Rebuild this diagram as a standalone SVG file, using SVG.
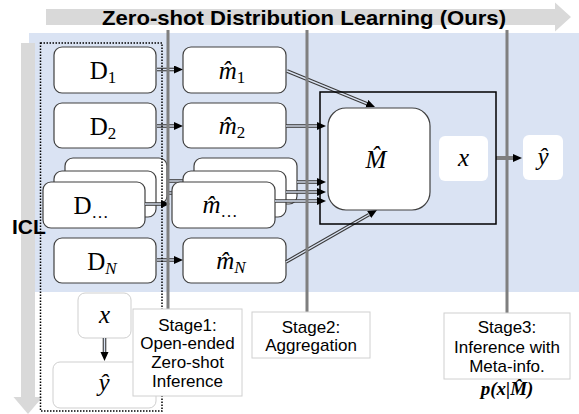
<svg xmlns="http://www.w3.org/2000/svg" width="579" height="414" viewBox="0 0 579 414">
<defs>
<style>
.box{fill:#fff;stroke:#404040;stroke-width:1.2}
.lbox{fill:#fff;stroke:#cfcfcf;stroke-width:1}
.math{font-family:"Liberation Serif","DejaVu Serif",serif;font-size:25px;fill:#000}
.it{font-style:italic}
.sub{font-size:17px}
.stg{font-family:"Liberation Sans",Arial,sans-serif;font-size:17px;fill:#000;text-anchor:middle}
.dl-o{stroke:#3a3a3a;stroke-width:3.6;fill:none}
.dl-i{stroke:#dae3f3;stroke-width:1.4;fill:none}
.vline{stroke:#7f7f7f;stroke-width:3}
</style>
<marker id="ah" markerWidth="10" markerHeight="10" refX="0" refY="4" orient="auto" markerUnits="userSpaceOnUse">
<path d="M0,0 L9,4 L0,8 z" fill="#000"/>
</marker>
</defs>
<rect width="579" height="414" fill="#fff"/>
<!-- background -->
<rect x="29" y="33" width="550" height="259" fill="#dae3f3"/>
<!-- top arrow -->
<path d="M46,9 H555 V2.5 L571,17 L555,31.5 V25 H46 z" fill="#d9d9d9"/>
<text x="304" y="25" font-family="Liberation Sans,Arial,sans-serif" font-weight="bold" font-size="21" text-anchor="middle" textLength="404" lengthAdjust="spacingAndGlyphs">Zero-shot Distribution Learning (Ours)</text>
<!-- left arrow -->
<path d="M21,43 H35 V397 H42.5 L28,414 L13.5,397 H21 z" fill="#d9d9d9"/>

<!-- ICL region -->
<g id="icl-x">
<rect class="lbox" x="78" y="293" width="53" height="45" rx="7"/>
<text class="math it" x="104.5" y="323" text-anchor="middle">x</text>
</g>
<g id="icl-y">
<rect class="lbox" x="53" y="362" width="103" height="46" rx="7"/>
<text class="math it" x="104" y="391" text-anchor="middle">ŷ</text>
</g>

<!-- connectors -->
<g id="connectors">
<line class="dl-o" x1="157" y1="69.5" x2="174" y2="69.5" marker-end="url(#ah)"/>
<line class="dl-i" x1="157" y1="69.5" x2="174" y2="69.5"/>
<line class="dl-o" x1="157" y1="126" x2="174" y2="126" marker-end="url(#ah)"/>
<line class="dl-i" x1="157" y1="126" x2="174" y2="126"/>
<line class="dl-o" x1="157" y1="260" x2="174" y2="260" marker-end="url(#ah)"/>
<line class="dl-i" x1="157" y1="260" x2="174" y2="260"/>
<line class="dl-o" x1="167" y1="181" x2="183" y2="181"/>
<line class="dl-i" x1="167" y1="181" x2="183" y2="181"/>
<line class="dl-o" x1="156" y1="193" x2="175" y2="193"/>
<line class="dl-i" x1="156" y1="193" x2="175" y2="193"/>
<line class="dl-o" x1="104.5" y1="338" x2="104.5" y2="352" marker-end="url(#ah)"/>
<line class="dl-i" x1="104.5" y1="338" x2="104.5" y2="352"/>
</g>

<!-- D nodes -->
<g id="d1">
<rect class="box" x="54" y="47" width="102" height="46" rx="8"/>
<text class="math" x="103" y="79" text-anchor="middle">D<tspan class="sub" dy="4">1</tspan></text>
</g>
<g id="d2">
<rect class="box" x="54" y="103" width="102" height="45" rx="8"/>
<text class="math" x="103" y="134.5" text-anchor="middle">D<tspan class="sub" dy="4">2</tspan></text>
</g>
<g id="d-dots">
<rect class="box" x="65" y="158" width="102" height="46" rx="8"/>
<rect class="box" x="54" y="171" width="102" height="46" rx="8"/>
<rect class="box" x="43" y="182" width="102" height="46" rx="8"/>
<text class="math" x="91" y="213.5" text-anchor="middle">D<tspan class="sub" dy="4">…</tspan></text>
</g>
<g id="dn">
<rect class="box" x="54" y="238" width="102" height="45" rx="8"/>
<text class="math" x="102" y="269.5" text-anchor="middle">D<tspan class="sub it" dy="4">N</tspan></text>
</g>
<g id="d-front-arrow">
<line class="dl-o" x1="145" y1="204" x2="161" y2="204" marker-end="url(#ah)"/>
<line class="dl-i" x1="145" y1="204" x2="161" y2="204"/>
</g>

<!-- m nodes -->
<g id="m1">
<rect class="box" x="183" y="47" width="103" height="46" rx="8"/>
<text class="math it" x="232" y="78.5" text-anchor="middle">m̂<tspan class="sub" font-style="normal" dy="4">1</tspan></text>
</g>
<g id="m2">
<rect class="box" x="183" y="103" width="103" height="45" rx="8"/>
<text class="math it" x="232" y="134" text-anchor="middle">m̂<tspan class="sub" font-style="normal" dy="4">2</tspan></text>
</g>
<g id="m-dots">
<rect class="box" x="194" y="158" width="103" height="46" rx="8"/>
<rect class="box" x="183" y="171" width="103" height="46" rx="8"/>
<rect class="box" x="172" y="182" width="103" height="46" rx="8"/>
<text class="math it" x="220" y="213" text-anchor="middle">m̂<tspan class="sub" font-style="normal" dy="4">…</tspan></text>
</g>
<g id="mn">
<rect class="box" x="183" y="238" width="103" height="45" rx="8"/>
<text class="math it" x="231" y="269" text-anchor="middle">m̂<tspan class="sub" dy="4">N</tspan></text>
</g>

<!-- m -> M connectors -->
<g id="connectors-2">
<line class="dl-o" x1="287" y1="71" x2="366.7" y2="103.6" marker-end="url(#ah)"/>
<line class="dl-i" x1="287" y1="71" x2="366.7" y2="103.6"/>
<line class="dl-o" x1="286" y1="126" x2="317" y2="126" marker-end="url(#ah)"/>
<line class="dl-i" x1="286" y1="126" x2="317" y2="126"/>
<line class="dl-o" x1="297" y1="182" x2="317" y2="182" marker-end="url(#ah)"/>
<line class="dl-i" x1="297" y1="182" x2="317" y2="182"/>
<line class="dl-o" x1="286" y1="192" x2="317" y2="192" marker-end="url(#ah)"/>
<line class="dl-i" x1="286" y1="192" x2="317" y2="192"/>
<line class="dl-o" x1="275" y1="201" x2="317" y2="201" marker-end="url(#ah)"/>
<line class="dl-i" x1="275" y1="201" x2="317" y2="201"/>
<line class="dl-o" x1="286" y1="262" x2="369.2" y2="214.5" marker-end="url(#ah)"/>
<line class="dl-i" x1="286" y1="262" x2="369.2" y2="214.5"/>
<line stroke="#7f7f7f" stroke-width="4" x1="496" y1="158" x2="513" y2="158" marker-end="url(#ah)"/>
</g>

<!-- aggregation -->
<g id="agg">
<rect x="320" y="92" width="176" height="132" fill="none" stroke="#000" stroke-width="1.5"/>
</g>
<g id="M">
<rect class="box" x="328" y="108" width="102" height="102" rx="18"/>
<text class="math it" x="376" y="168" text-anchor="middle" font-size="26">M̂</text>
</g>
<g id="x">
<rect x="439" y="136" width="49" height="45" rx="6" fill="#fff"/>
<text class="math it" x="463.5" y="166" text-anchor="middle">x</text>
</g>
<g id="yhat">
<rect x="523" y="135" width="40" height="45" rx="6" fill="#fff"/>
<text class="math it" x="543" y="165" text-anchor="middle">ŷ</text>
</g>

<!-- stage lines -->
<line class="vline" x1="168" y1="30" x2="168" y2="309"/>
<line class="vline" x1="307" y1="30" x2="307" y2="312"/>
<line class="vline" x1="507" y1="30" x2="507" y2="313"/>

<!-- dotted ICL box -->
<rect x="40.5" y="43" width="121.5" height="368" fill="none" stroke="#000" stroke-width="1.5" stroke-dasharray="1.5 1.5"/>
<text x="12" y="234" font-family="Liberation Sans,Arial,sans-serif" font-weight="bold" font-size="21">ICL</text>

<!-- stage boxes -->
<g id="stage1">
<rect x="133" y="309" width="109" height="87" fill="#fff" stroke="#d0d0d0"/>
<text class="stg" x="187.5" y="330.5">Stage1:</text>
<text class="stg" x="187.5" y="349">Open-ended</text>
<text class="stg" x="187.5" y="367.5">Zero-shot</text>
<text class="stg" x="187.5" y="386.5">Inference</text>
</g>
<g id="stage2">
<rect x="252" y="312" width="118" height="46" fill="#fff" stroke="#d0d0d0"/>
<text class="stg" x="311" y="332.5">Stage2:</text>
<text class="stg" x="311" y="351">Aggregation</text>
</g>
<g id="stage3">
<rect x="444" y="313" width="126" height="66" fill="#fff" stroke="#d0d0d0"/>
<text class="stg" x="507" y="333">Stage3:</text>
<text class="stg" x="507" y="353">Inference with</text>
<text class="stg" x="507" y="372">Meta-info.</text>
<text x="507" y="395" font-family="Liberation Serif,DejaVu Serif,serif" font-size="19" font-weight="bold" font-style="italic" text-anchor="middle">p(x|M̂)</text>
</g>
</svg>
